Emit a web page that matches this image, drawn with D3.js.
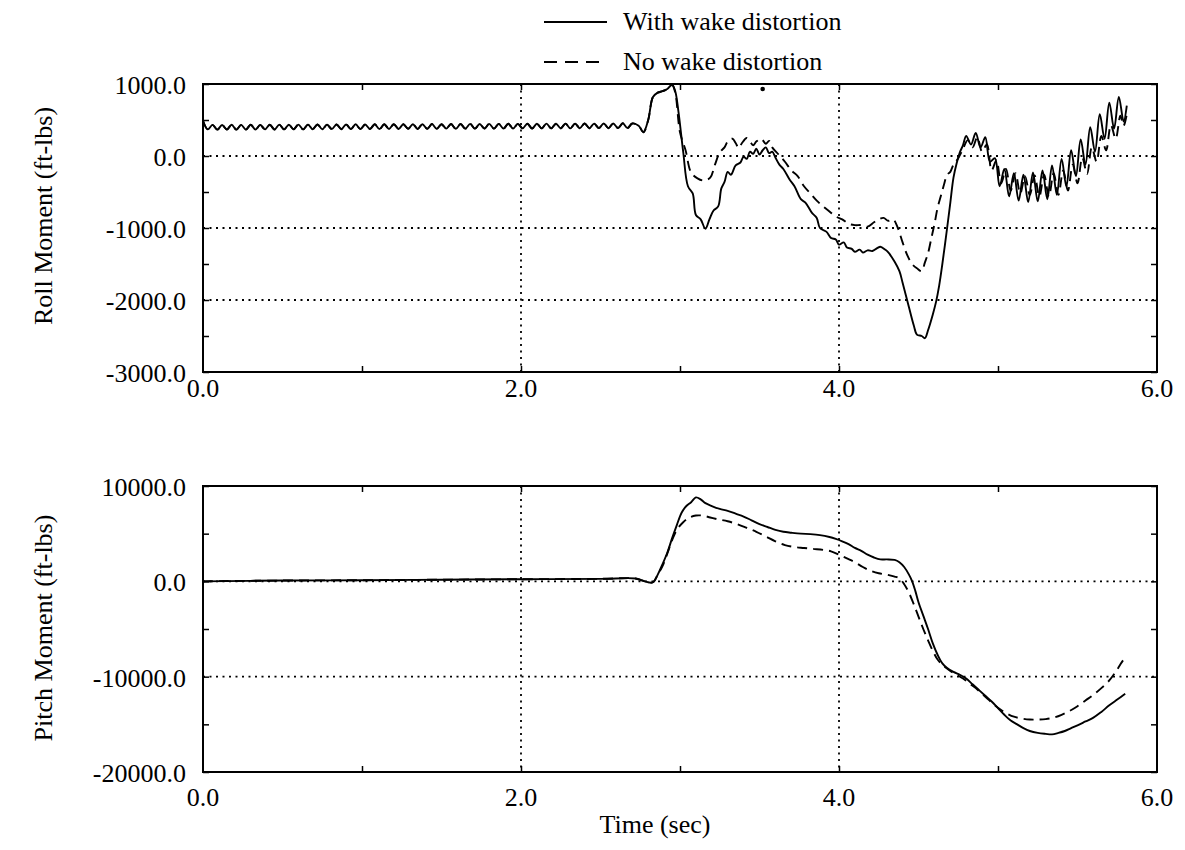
<!DOCTYPE html>
<html>
<head>
<meta charset="utf-8">
<script src="https://cdn.jsdelivr.net/npm/d3@7"></script>
<style>
  html, body { margin: 0; padding: 0; background: #fff; }
  svg { display: block; }
  text { font-family: "Liberation Serif", "Times New Roman", serif; fill: #000; }
</style>
</head>
<body>
<svg id="chart" width="1185" height="850"></svg>
<script>
// ---------------- DATA ----------------
const seriesNames = ["With wake distortion", "No wake distortion"];
const xTicksMajor = [0, 2, 4, 6];
const xTickLabels = ["0.0", "2.0", "4.0", "6.0"];
const rollTicks = [1000, 0, -1000, -2000, -3000];
const rollTickLabels = ["1000.0", "0.0", "-1000.0", "-2000.0", "-3000.0"];
const pitchTicks = [10000, 0, -10000, -20000];
const pitchTickLabels = ["10000.0", "0.0", "-10000.0", "-20000.0"];

// roll moment, common to both runs before the wake encounter [time s, ft-lbs]
const rollCommon = [[0,490],[0.03,370],[0.06,432],[0.09,366],[0.12,430],[0.15,368],[0.18,434],[0.21,366],[0.24,432],[0.27,368],[0.30,434],[0.33,368],[0.36,432],[0.39,370],[0.42,434],[0.45,368],[0.48,436],[0.51,370],[0.54,434],[0.57,372],[0.60,436],[0.63,370],[0.66,436],[0.69,372],[0.72,438],[0.75,372],[0.78,436],[0.81,374],[0.84,438],[0.87,372],[0.90,438],[0.93,374],[0.96,440],[0.99,374],[1.02,438],[1.05,376],[1.08,440],[1.11,374],[1.14,440],[1.17,376],[1.20,442],[1.23,376],[1.26,440],[1.29,378],[1.32,442],[1.35,376],[1.38,442],[1.41,378],[1.44,444],[1.47,378],[1.50,442],[1.53,380],[1.56,444],[1.59,378],[1.62,444],[1.65,380],[1.68,446],[1.71,380],[1.74,444],[1.77,382],[1.80,446],[1.83,380],[1.86,446],[1.89,382],[1.92,448],[1.95,382],[1.98,446],[2.01,384],[2.04,448],[2.07,382],[2.10,448],[2.13,384],[2.16,450],[2.19,384],[2.22,448],[2.25,386],[2.28,450],[2.31,384],[2.34,450],[2.37,386],[2.40,452],[2.43,386],[2.46,450],[2.49,388],[2.52,452],[2.55,386],[2.58,452],[2.61,388],[2.64,454],[2.67,388],[2.70,452],[2.74,420],[2.77,330],[2.80,500],[2.83,820],[2.86,880],[2.89,900],[2.92,930],[2.95,990]];

const rollWithLater = [[2.97,900],[2.99,620],[3.02,60],[3.05,-420],[3.08,-520],[3.10,-820],[3.13,-880],[3.16,-1010],[3.185,-880],[3.21,-760],[3.24,-700],[3.26,-450],[3.28,-360],[3.30,-220],[3.32,-260],[3.35,-130],[3.38,-90],[3.40,-10],[3.42,-40],[3.44,60],[3.46,30],[3.48,100],[3.50,20],[3.52,80],[3.54,120],[3.56,40],[3.58,60],[3.60,-20],[3.625,-120],[3.65,-180],[3.69,-330],[3.72,-420],[3.76,-600],[3.79,-650],[3.83,-790],[3.86,-860],[3.88,-1000],[3.92,-1050],[3.95,-1140],[3.98,-1160],[4.00,-1230],[4.03,-1200],[4.05,-1270],[4.08,-1290],[4.10,-1330],[4.13,-1300],[4.15,-1340],[4.18,-1310],[4.21,-1320],[4.24,-1280],[4.26,-1260],[4.29,-1300],[4.31,-1340],[4.35,-1470],[4.38,-1600],[4.40,-1760],[4.44,-2100],[4.47,-2350],[4.49,-2480],[4.52,-2500],[4.54,-2530],[4.56,-2420],[4.59,-2200],[4.61,-2030],[4.63,-1800],[4.65,-1500],[4.68,-1000],[4.70,-650],[4.72,-300],[4.74,-100],[4.76,50],[4.78,150],[4.80,280],[4.83,160],[4.86,320],[4.89,120],[4.92,260],[4.95,-80],[4.98,-30],[5.01,-420],[5.04,-180],[5.07,-560],[5.10,-240],[5.13,-620],[5.16,-260],[5.19,-640],[5.22,-230],[5.25,-630],[5.28,-200],[5.31,-600],[5.34,-130],[5.37,-540],[5.40,-40],[5.43,-420],[5.46,80],[5.49,-280],[5.52,230],[5.55,-120],[5.58,400],[5.61,60],[5.64,580],[5.67,240],[5.70,740],[5.73,380],[5.76,820],[5.79,480],[5.81,700]];

const rollNoLater = [[2.97,880],[3.00,330],[3.035,80],[3.07,-230],[3.11,-310],[3.15,-340],[3.19,-300],[3.22,-120],[3.25,50],[3.28,120],[3.30,200],[3.33,240],[3.35,180],[3.37,110],[3.39,180],[3.42,250],[3.44,200],[3.46,150],[3.48,200],[3.51,240],[3.54,170],[3.56,210],[3.58,120],[3.62,20],[3.66,-80],[3.70,-200],[3.74,-280],[3.78,-420],[3.82,-520],[3.86,-620],[3.90,-700],[3.94,-770],[3.98,-840],[4.02,-880],[4.06,-940],[4.10,-960],[4.14,-960],[4.18,-980],[4.22,-920],[4.25,-880],[4.28,-860],[4.31,-900],[4.34,-880],[4.37,-1000],[4.40,-1200],[4.43,-1380],[4.46,-1500],[4.49,-1560],[4.52,-1600],[4.54,-1480],[4.56,-1350],[4.58,-1150],[4.60,-950],[4.62,-720],[4.64,-560],[4.66,-400],[4.68,-260],[4.70,-220],[4.72,-120],[4.75,-30],[4.78,100],[4.81,220],[4.84,120],[4.87,260],[4.90,60],[4.93,160],[4.96,-200],[4.99,-60],[5.02,-380],[5.05,-180],[5.08,-480],[5.11,-240],[5.14,-520],[5.17,-280],[5.20,-540],[5.23,-270],[5.26,-560],[5.29,-260],[5.32,-560],[5.35,-240],[5.38,-540],[5.41,-200],[5.44,-480],[5.47,-120],[5.50,-380],[5.53,-20],[5.56,-250],[5.59,120],[5.62,-80],[5.65,280],[5.68,80],[5.71,430],[5.74,240],[5.77,560],[5.79,420],[5.81,580]];

// pitch moment [time s, ft-lbs]
const pitchCommon = [[0,0],[0.5,80],[1.0,120],[1.5,170],[2.0,220],[2.5,260],[2.72,300],[2.76,100],[2.80,-100],[2.83,-100],[2.86,700]];

const pitchWithLater = [[2.89,1800],[2.92,3000],[2.95,4500],[2.98,5900],[3.01,7200],[3.04,7900],[3.07,8300],[3.10,8800],[3.13,8600],[3.16,8200],[3.20,7900],[3.25,7600],[3.30,7400],[3.35,7100],[3.40,6800],[3.45,6400],[3.50,6000],[3.55,5700],[3.60,5400],[3.65,5200],[3.70,5100],[3.76,5000],[3.82,4950],[3.88,4850],[3.94,4650],[3.98,4450],[4.02,4200],[4.06,3900],[4.10,3500],[4.14,3200],[4.18,2800],[4.22,2500],[4.26,2300],[4.30,2300],[4.35,2250],[4.38,2000],[4.41,1500],[4.44,700],[4.46,0],[4.48,-1000],[4.50,-2200],[4.53,-3600],[4.56,-5000],[4.59,-6500],[4.62,-7700],[4.65,-8600],[4.68,-9100],[4.72,-9500],[4.76,-9800],[4.80,-10200],[4.84,-10800],[4.88,-11400],[4.92,-12000],[4.96,-12600],[5.00,-13300],[5.04,-14000],[5.08,-14600],[5.12,-15000],[5.16,-15400],[5.20,-15700],[5.25,-15900],[5.30,-16000],[5.34,-16050],[5.38,-15900],[5.42,-15700],[5.46,-15400],[5.50,-15100],[5.55,-14700],[5.60,-14300],[5.65,-13700],[5.70,-13000],[5.75,-12400],[5.80,-11800]];

const pitchNoLater = [[2.89,1600],[2.92,2900],[2.95,4300],[2.98,5400],[3.02,6200],[3.06,6700],[3.10,6900],[3.14,6900],[3.19,6700],[3.24,6500],[3.30,6300],[3.36,6000],[3.42,5600],[3.48,5200],[3.54,4700],[3.60,4200],[3.66,3800],[3.72,3600],[3.78,3500],[3.84,3400],[3.90,3300],[3.95,3150],[4.00,2800],[4.05,2400],[4.10,2000],[4.15,1500],[4.20,1100],[4.25,850],[4.30,700],[4.35,500],[4.38,300],[4.41,-300],[4.44,-1200],[4.47,-2400],[4.50,-3700],[4.53,-5000],[4.56,-6200],[4.59,-7300],[4.62,-8200],[4.66,-8900],[4.70,-9400],[4.74,-9800],[4.78,-10200],[4.82,-10700],[4.86,-11200],[4.90,-11800],[4.94,-12400],[4.98,-13000],[5.02,-13500],[5.06,-13900],[5.10,-14200],[5.15,-14400],[5.20,-14500],[5.25,-14500],[5.30,-14450],[5.35,-14300],[5.40,-14000],[5.45,-13600],[5.50,-13100],[5.55,-12500],[5.60,-11900],[5.65,-11200],[5.70,-10400],[5.74,-9500],[5.77,-8700],[5.79,-8200]];

// stray speck visible in the scanned original [time s, ft-lbs]
const rollSpecks = [[3.52, 930]];

// ---------------- DRAW ----------------
const svg = d3.select("#chart");
const FONT = 26;
const SERIF = "'Liberation Serif', 'Times New Roman', serif";

const x = d3.scaleLinear().domain([0, 6]).range([203, 1157]);

function panel(yDomain, yRange, yTicks, yLabels, minorStep, title, titleY, series, xLabelBase) {
  const y = d3.scaleLinear().domain(yDomain).range(yRange);
  const g = svg.append("g").attr("font-family", SERIF);
  const [x0, x1] = x.range();
  const [yb, yt] = yRange;

  // dotted grid (interior majors)
  const gridY = yTicks.filter(v => v !== yDomain[0] && v !== yDomain[1]);
  g.selectAll(".gy").data(gridY).join("line")
    .attr("x1", x0).attr("x2", x1).attr("y1", d => y(d)).attr("y2", d => y(d))
    .attr("stroke", "#000").attr("stroke-width", 1.8).attr("stroke-dasharray", "2,4.5");
  const gridX = xTicksMajor.filter(v => v !== 0 && v !== 6);
  g.selectAll(".gx").data(gridX).join("line")
    .attr("x1", d => x(d)).attr("x2", d => x(d)).attr("y1", yt).attr("y2", yb)
    .attr("stroke", "#000").attr("stroke-width", 1.8).attr("stroke-dasharray", "2,4.5");

  // inward ticks via d3 axes
  const minorY = d3.range(yDomain[0], yDomain[1] + minorStep / 2, minorStep);
  const tl = 6;
  const axL = d3.axisRight(y).tickValues(minorY).tickSize(tl).tickFormat("");
  const axR = d3.axisLeft(y).tickValues(minorY).tickSize(tl).tickFormat("");
  const axB = d3.axisTop(x).tickValues([1, 2, 3, 4, 5]).tickSize(tl).tickFormat("");
  const axT = d3.axisBottom(x).tickValues([1, 2, 3, 4, 5]).tickSize(tl).tickFormat("");
  [[axL, `translate(${x0},0)`], [axR, `translate(${x1},0)`], [axB, `translate(0,${yb})`], [axT, `translate(0,${yt})`]]
    .forEach(([ax, tr]) => {
      const a = g.append("g").attr("transform", tr).call(ax);
      a.select(".domain").remove();
      a.selectAll("line").attr("stroke", "#000").attr("stroke-width", 1.5);
    });

  // frame
  g.append("rect").attr("x", x0).attr("y", yt).attr("width", x1 - x0).attr("height", yb - yt)
    .attr("fill", "none").attr("stroke", "#000").attr("stroke-width", 2);

  // y tick labels
  g.selectAll(".yl").data(yTicks).join("text")
    .attr("x", 186).attr("y", d => y(d) + 10)
    .attr("text-anchor", "end").attr("font-size", FONT)
    .text((d, i) => yLabels[i]);

  // x tick labels
  g.selectAll(".xl").data(xTicksMajor).join("text")
    .attr("x", d => x(d)).attr("y", xLabelBase)
    .attr("text-anchor", "middle").attr("font-size", FONT)
    .text((d, i) => xTickLabels[i]);

  // y title
  g.append("text")
    .attr("transform", `translate(52,${titleY}) rotate(-90)`)
    .attr("text-anchor", "middle").attr("font-size", FONT)
    .text(title);

  // series
  const line = d3.line().x(d => x(d[0])).y(d => y(d[1])).curve(d3.curveCatmullRom.alpha(0.5));
  series.forEach(s => {
    g.append("path").datum(s.data).attr("d", line)
      .attr("fill", "none").attr("stroke", "#000").attr("stroke-width", 1.9)
      .attr("stroke-linejoin", "round")
      .attr("stroke-dasharray", s.dash || null);
  });
  return { g, y };
}

const rollPanel = panel([-3000, 1000], [372, 84], rollTicks, rollTickLabels, 500,
  "Roll Moment (ft-lbs)", 216,
  [
    { data: rollCommon.concat(rollNoLater), dash: "10,6" },
    { data: rollCommon.concat(rollWithLater) }
  ], 397);

rollPanel.g.selectAll(".speck").data(rollSpecks).join("circle")
  .attr("cx", d => x(d[0])).attr("cy", d => rollPanel.y(d[1])).attr("r", 2.3).attr("fill", "#000");

panel([-20000, 10000], [772, 486], pitchTicks, pitchTickLabels, 5000,
  "Pitch Moment (ft-lbs)", 628,
  [
    { data: pitchCommon.concat(pitchNoLater), dash: "10,6" },
    { data: pitchCommon.concat(pitchWithLater) }
  ], 806);

// x title
svg.append("text").attr("x", 655).attr("y", 833).attr("text-anchor", "middle")
  .attr("font-family", SERIF).attr("font-size", FONT).text("Time (sec)");

// legend
const leg = svg.append("g").attr("font-family", SERIF);
const legRows = [{ y: 22, dash: null }, { y: 62, dash: "13,8" }];
legRows.forEach((r, i) => {
  leg.append("line").attr("x1", 544).attr("x2", 607).attr("y1", r.y).attr("y2", r.y)
    .attr("stroke", "#000").attr("stroke-width", 1.8).attr("stroke-dasharray", r.dash);
  leg.append("text").attr("x", 623).attr("y", r.y + 8).attr("font-size", FONT).text(seriesNames[i]);
});
</script>
</body>
</html>
